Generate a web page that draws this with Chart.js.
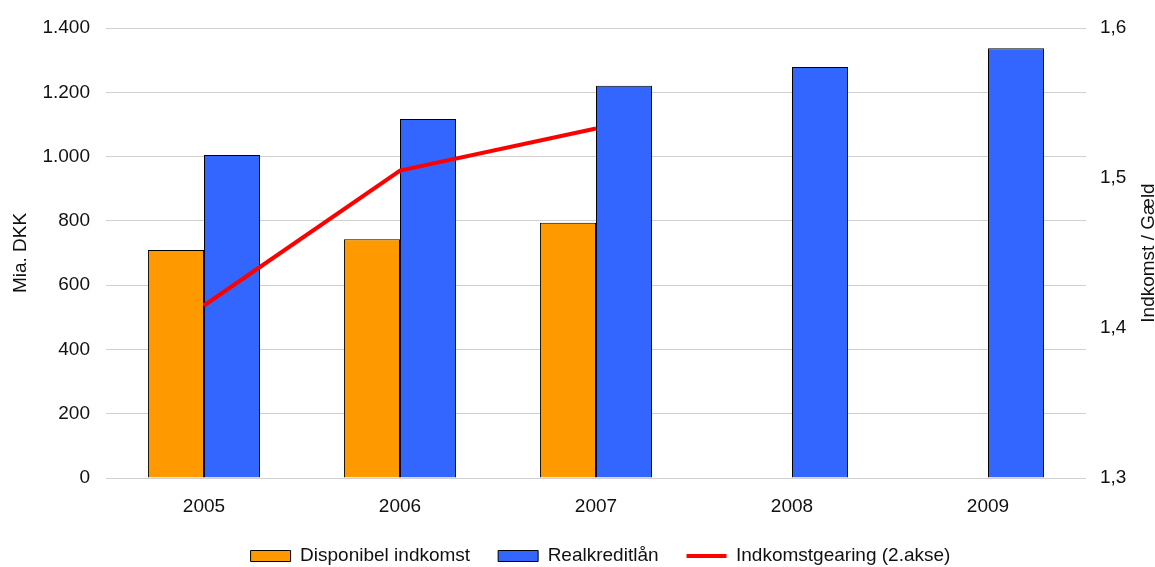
<!DOCTYPE html>
<html>
<head>
<meta charset="utf-8">
<script src="https://cdn.jsdelivr.net/npm/chart.js@4.4.1/dist/chart.umd.min.js"></script>
<style>
  html, body { margin: 0; padding: 0; background: #fff; }
  #wrap { width: 1155px; height: 567px; position: relative; }
</style>
</head>
<body>
<div id="wrap"><canvas id="c"></canvas></div>
<script>
// Household income vs. mortgage lending, bn DKK, with income gearing on a second axis
const years = ['2005', '2006', '2007', '2008', '2009'];
const disponibelIndkomst = [709, 743, 794, null, null];
const realkreditlaan = [1005, 1117, 1220, 1279, 1337];
const indkomstgearing = [1.415, 1.505, 1.533, null, null];
const leftTickLabels = ['0', '200', '400', '600', '800', '1.000', '1.200', '1.400'];
const rightTickLabels = ['1,3', '1,4', '1,5', '1,6'];

const FONT = '"Liberation Sans", Arial, Helvetica, sans-serif';
const TEXT = '#111';
const ORANGE = '#ff9900';
const BLUE = '#3366ff';
const RED = '#ff0000';

// Secondary axis title, read bottom-to-top like the primary one
const rightTitle = {
  id: 'rightTitle',
  afterDraw(chart) {
    const { ctx, chartArea } = chart;
    const x = chart.scales.y1.right - 6;
    ctx.save();
    ctx.translate(x, (chartArea.top + chartArea.bottom) / 2);
    ctx.rotate(-Math.PI / 2);
    ctx.font = '19px ' + FONT;
    ctx.fillStyle = TEXT;
    ctx.textAlign = 'center';
    ctx.textBaseline = 'middle';
    ctx.fillText('Indkomst / Gæld', 0, 0);
    ctx.restore();
  }
};

// Centre the legend row under the plot area rather than the whole canvas
const legendShift = {
  id: 'legendShift',
  afterLayout(chart) {
    const lg = chart.legend;
    if (lg) { lg.left += 23; lg.right += 23; }
  }
};

new Chart(document.getElementById('c'), {
  type: 'bar',
  data: {
    labels: years,
    datasets: [
      {
        type: 'line',
        label: 'Indkomstgearing (2.akse)',
        data: indkomstgearing,
        yAxisID: 'y1',
        borderColor: RED,
        backgroundColor: RED,
        borderWidth: 4,
        pointRadius: 0,
        pointHoverRadius: 0,
        tension: 0,
        spanGaps: false,
        order: 0
      },
      {
        label: 'Disponibel indkomst',
        data: disponibelIndkomst,
        yAxisID: 'y',
        backgroundColor: ORANGE,
        borderColor: '#000',
        borderWidth: 1,
        categoryPercentage: 0.572,
        barPercentage: 1.0,
        order: 1
      },
      {
        label: 'Realkreditlån',
        data: realkreditlaan,
        yAxisID: 'y',
        backgroundColor: BLUE,
        borderColor: '#000',
        borderWidth: 1,
        categoryPercentage: 0.572,
        barPercentage: 1.0,
        order: 1
      }
    ]
  },
  options: {
    responsive: true,
    maintainAspectRatio: false,
    animation: false,
    devicePixelRatio: 1,
    layout: { padding: { top: 28, left: 0, right: 0, bottom: -8.5 } },
    font: { family: FONT, size: 19 },
    color: TEXT,
    plugins: {
      tooltip: { enabled: false },
      legend: {
        position: 'bottom',
        labels: {
          font: { family: FONT, size: 19 },
          color: TEXT,
          padding: 28,
          usePointStyle: true,
          pointStyleWidth: 40,
          boxHeight: 11,
          generateLabels(chart) {
            const ds = chart.data.datasets;
            return [
              { text: ds[1].label, fillStyle: ORANGE, strokeStyle: '#000', lineWidth: 1, pointStyle: 'rect', datasetIndex: 1, fontColor: TEXT },
              { text: ds[2].label, fillStyle: BLUE, strokeStyle: '#000', lineWidth: 1, pointStyle: 'rect', datasetIndex: 2, fontColor: TEXT },
              { text: ds[0].label, fillStyle: RED, strokeStyle: RED, lineWidth: 4, pointStyle: 'line', datasetIndex: 0, fontColor: TEXT }
            ];
          }
        }
      }
    },
    scales: {
      x: {
        offset: true,
        grid: { display: false, drawTicks: false },
        border: { display: false },
        ticks: { font: { family: FONT, size: 19 }, color: TEXT, padding: 17, maxRotation: 0 },
        afterFit(scale) { scale.height = 40.5; }
      },
      y: {
        position: 'left',
        min: 0,
        max: 1400,
        ticks: {
          stepSize: 200,
          font: { family: FONT, size: 19 },
          color: TEXT,
          padding: 16,
          callback: (v, i) => leftTickLabels[i]
        },
        grid: { color: '#d0d0d0', lineWidth: 1, drawTicks: false },
        border: { display: false },
        title: {
          display: true,
          text: 'Mia. DKK',
          font: { family: FONT, size: 19 },
          color: TEXT,
          padding: { top: 9, bottom: 0 }
        },
        afterFit(scale) { scale.width = 106; }
      },
      y1: {
        position: 'right',
        min: 1.3,
        max: 1.6,
        ticks: {
          stepSize: 0.1,
          font: { family: FONT, size: 19 },
          color: TEXT,
          padding: 14,
          callback: (v, i) => rightTickLabels[i]
        },
        grid: { display: false, drawTicks: false },
        border: { display: false },
        afterFit(scale) { scale.width = 69; }
      }
    }
  },
  plugins: [rightTitle, legendShift]
});
</script>
</body>
</html>
